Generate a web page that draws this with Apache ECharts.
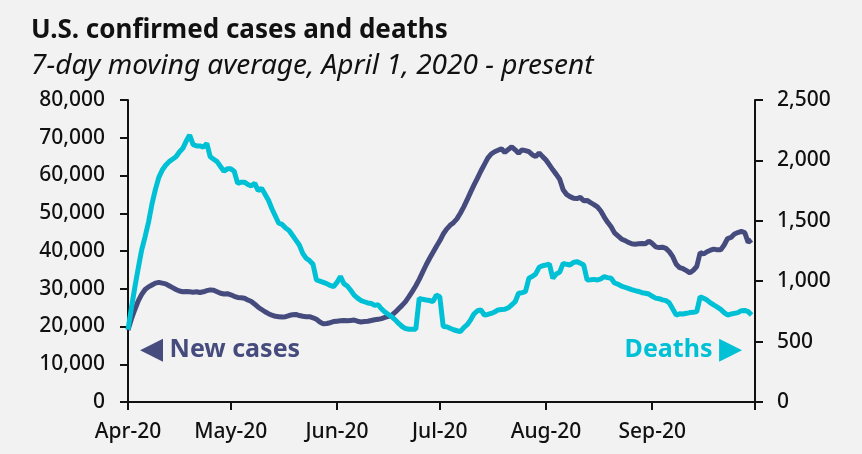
<!DOCTYPE html>
<html>
<head>
<meta charset="utf-8">
<script src="https://cdn.jsdelivr.net/npm/echarts@6/dist/echarts.min.js"></script>
<style>
  html, body { margin: 0; padding: 0; background: #f2f2f2; }
  #main { width: 862px; height: 454px; }
</style>
</head>
<body>
<div id="main"></div>
<script>
// daily 7-day averages, Apr 1 -> Sep 30 2020
const newCases = [
  19100, 22000, 24500, 26800, 28500, 29800, 30500, 31000, 31500, 31700,
  31500, 31300, 30800, 30300, 29800, 29400, 29200, 29300, 29200, 29100,
  29200, 29000, 29200, 29500, 29700, 29600, 29200, 28800, 28600, 28700,
  28400, 28000, 27700, 27600, 27500, 27000, 26600, 25900, 25100, 24500,
  23900, 23400, 23000, 22700, 22600, 22500, 22600, 22900, 23100, 23200,
  22900, 22700, 22600, 22600, 22300, 21900, 21200, 20700, 20800, 21000,
  21300, 21400, 21500, 21600, 21500, 21600, 21700, 21400, 21200, 21300,
  21400, 21600, 21800, 21900, 22100, 22400, 22700, 23000, 23800, 24700,
  25600, 26600, 27900, 29300, 30800, 32500, 34400, 36300, 38000, 39600,
  41200, 42700, 44500, 45800, 46800, 47500, 48500, 50000, 51700, 53600,
  55600, 57500, 59300, 61200, 62900, 64600, 65700, 66300, 66700, 67100,
  66100, 66900, 67600, 66800, 65900, 66800, 66600, 66300, 65500, 65000,
  66000, 65000, 64100, 62800, 61500, 60300, 59000, 56200, 55000, 54400,
  54000, 53900, 54200, 53300, 53400, 52800, 52300, 51700, 50600, 49000,
  47600, 46400, 44800, 44000, 43200, 42800, 42300, 41900, 41800, 41900,
  42000, 41900, 42600, 42000, 41100, 40900, 41000, 40700, 39800, 38500,
  36500, 35600, 35300, 34800, 34200, 34900, 35900, 39600, 39200, 39800,
  40200, 40500, 40300, 40300, 41600, 43300, 43600, 44500, 44900, 45200,
  44900, 42300, 43000
];
const deaths = [
  600, 780, 950, 1110, 1260, 1370, 1490, 1640, 1760, 1860,
  1920, 1960, 1990, 2010, 2030, 2070, 2100, 2160, 2210, 2130,
  2120, 2120, 2110, 2140, 2030, 2010, 1990, 1950, 1910, 1930,
  1930, 1910, 1810, 1820, 1820, 1800, 1790, 1810, 1750, 1770,
  1720, 1670, 1600, 1540, 1480, 1470, 1440, 1420, 1380, 1340,
  1300, 1230, 1190, 1170, 1140, 1010, 1000, 990, 980, 965,
  955, 990, 1040, 980, 960, 925, 885, 860, 840, 830,
  820, 815, 800, 805, 770, 745, 725, 705, 680, 650,
  625, 608, 602, 603, 602, 858, 850, 845, 840, 832,
  885, 872, 625, 623, 610, 598, 590, 582, 615, 640,
  680, 730, 755, 762, 720, 725, 733, 745, 762, 765,
  767, 780, 805, 830, 900, 905, 913, 1024, 1040, 1060,
  1115, 1128, 1134, 1142, 1024, 1060, 1075, 1148, 1140, 1134,
  1155, 1162, 1150, 1134, 1010, 1012, 1015, 1010, 1020, 1037,
  1030, 1024, 985, 975, 960, 950, 940, 930, 922, 915,
  905, 900, 894, 875, 860, 855, 845, 839, 820, 770,
  720, 730, 729, 734, 740, 742, 748, 872, 858, 844,
  820, 803, 785, 767, 740, 720, 728, 734, 740, 756,
  758, 748, 720
];
const monthLabels = { '04': 'Apr-20', '05': 'May-20', '06': 'Jun-20', '07': 'Jul-20', '08': 'Aug-20', '09': 'Sep-20', '10': '' };

// day categories Apr 1 -> Oct 1 (last one only carries the closing tick)
const days = [];
for (let t = Date.UTC(2020, 3, 1); t <= Date.UTC(2020, 9, 1); t += 86400000) {
  days.push(new Date(t).toISOString().slice(0, 10));
}
const isMonthStart = (i, v) => v.slice(8) === '01';

const font = 'Noto Sans';
const caseColor = '#464b7e';
const deathColor = '#00c0d6';
const ink = '#111';

const chart = echarts.init(document.getElementById('main'));
chart.setOption({
  backgroundColor: '#f2f2f2',
  animation: false,
  title: {
    text: 'U.S. confirmed cases and deaths',
    subtext: '7-day moving average, April 1, 2020 - present',
    left: 26,
    top: 13,
    itemGap: 8,
    textStyle: { fontFamily: font, fontSize: 26, fontWeight: 'bold', color: ink },
    subtextStyle: { fontFamily: font, fontSize: 28, fontStyle: 'italic', color: ink }
  },
  grid: { left: 128, right: 107, top: 100, bottom: 52 },
  xAxis: {
    type: 'category',
    data: days,
    boundaryGap: false,
    axisLine: { lineStyle: { color: ink, width: 2 } },
    axisTick: { interval: isMonthStart, length: 8, lineStyle: { color: ink, width: 2 } },
    axisLabel: {
      interval: isMonthStart,
      formatter: v => monthLabels[v.slice(5, 7)],
      fontFamily: font, fontSize: 21, fontWeight: 500, color: ink, margin: 20
    }
  },
  yAxis: [
    {
      type: 'value', min: 0, max: 80000, interval: 10000,
      splitLine: { show: false },
      axisLine: { show: true, lineStyle: { color: ink, width: 2 } },
      axisTick: { show: true, length: 8, lineStyle: { color: ink, width: 2 } },
      axisLabel: {
        formatter: v => v.toLocaleString('en-US'),
        fontFamily: font, fontSize: 21, fontWeight: 500, color: ink, margin: 23
      }
    },
    {
      type: 'value', min: 0, max: 2500, interval: 500, position: 'right',
      splitLine: { show: false },
      axisLine: { show: true, lineStyle: { color: ink, width: 2 } },
      axisTick: { show: true, length: 8, lineStyle: { color: ink, width: 2 } },
      axisLabel: {
        formatter: v => v.toLocaleString('en-US'),
        fontFamily: font, fontSize: 21, fontWeight: 500, color: ink, margin: 22
      }
    }
  ],
  series: [
    {
      name: 'New cases', type: 'line', yAxisIndex: 0, data: newCases,
      showSymbol: false, lineStyle: { color: caseColor, width: 5 }, z: 2
    },
    {
      name: 'Deaths', type: 'line', yAxisIndex: 1, data: deaths,
      showSymbol: false, lineStyle: { color: deathColor, width: 5 }, z: 3
    }
  ],
  graphic: [
    {
      type: 'text', left: 140, top: 335,
      style: {
        text: '{t|◀} New cases', fill: caseColor, font: 'bold 25px "Noto Sans"',
        rich: { t: { fontSize: 30, fontFamily: 'DejaVu Sans', fill: caseColor } }
      }
    },
    {
      type: 'text', right: 120, top: 335,
      style: {
        text: 'Deaths {t|▶}', fill: deathColor, font: 'bold 25px "Noto Sans"',
        rich: { t: { fontSize: 30, fontFamily: 'DejaVu Sans', fill: deathColor } }
      }
    }
  ]
});
</script>
</body>
</html>
